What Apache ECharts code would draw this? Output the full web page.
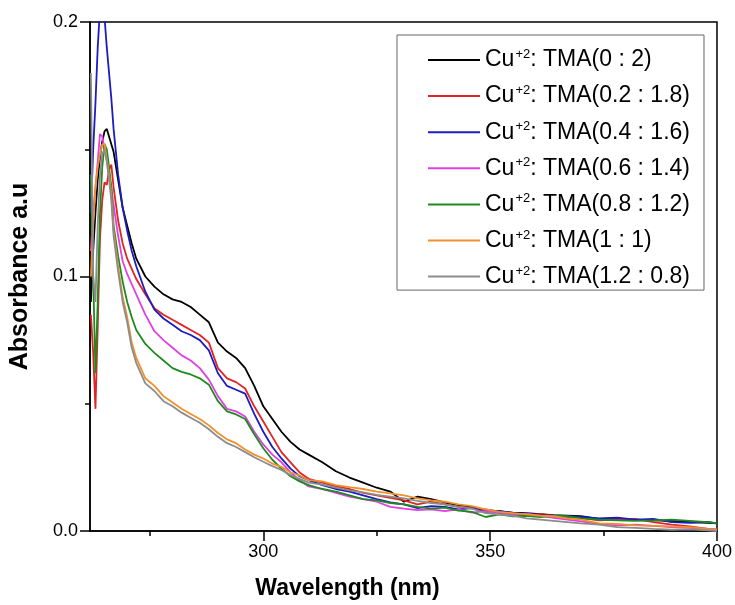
<!DOCTYPE html>
<html>
<head>
<meta charset="utf-8">
<script src="https://cdn.jsdelivr.net/npm/echarts@6/dist/echarts.min.js"></script>
<style>
html,body{margin:0;padding:0;background:#fff;}
#main{width:735px;height:605px;}
</style>
</head>
<body>
<div id="main"></div>
<script>
// Wavelength grid (nm)
const wavelengths = [262, 262.5, 263, 263.5, 264, 264.5, 265, 265.5, 266, 266.5, 267, 268, 269, 270, 271, 272, 274, 276, 278, 280, 282, 284, 286, 288, 290, 292, 294, 296, 298, 300, 302, 304, 306, 308, 310, 313, 316, 319, 322, 325, 328, 331, 334, 337, 340, 343, 346, 349, 352, 355, 358, 361, 364, 367, 370, 374, 378, 382, 386, 390, 394, 398, 400];

const seriesNames = ['0 : 2', '0.2 : 1.8', '0.4 : 1.6', '0.6 : 1.4', '0.8 : 1.2', '1 : 1', '1.2 : 0.8'];

const abs_0_2 = [0.09, 0.11, 0.125, 0.138, 0.147, 0.153, 0.157, 0.158, 0.155, 0.152, 0.149, 0.138, 0.127, 0.120, 0.113, 0.107, 0.100, 0.096, 0.093, 0.091, 0.090, 0.088, 0.085, 0.082, 0.074, 0.0705, 0.068, 0.064, 0.057, 0.049, 0.044, 0.039, 0.035, 0.032, 0.030, 0.027, 0.0235, 0.021, 0.019, 0.017, 0.0155, 0.0115, 0.0135, 0.0125, 0.0112, 0.0102, 0.0095, 0.0082, 0.0078, 0.0072, 0.007, 0.0066, 0.0062, 0.006, 0.0058, 0.0048, 0.005, 0.0043, 0.0042, 0.004, 0.0035, 0.0032, 0.003];

const abs_02_18 = [0.085, 0.07, 0.048, 0.08, 0.115, 0.13, 0.137, 0.136, 0.142, 0.144, 0.135, 0.122, 0.113, 0.107, 0.103, 0.099, 0.093, 0.0875, 0.085, 0.083, 0.081, 0.079, 0.077, 0.074, 0.064, 0.060, 0.0585, 0.056, 0.049, 0.043, 0.037, 0.031, 0.027, 0.023, 0.0205, 0.019, 0.0175, 0.0165, 0.015, 0.014, 0.013, 0.012, 0.0105, 0.0115, 0.0105, 0.0095, 0.009, 0.0085, 0.0075, 0.0068, 0.0062, 0.0066, 0.006, 0.0055, 0.0052, 0.0042, 0.0045, 0.0048, 0.0035, 0.0025, 0.0018, 0.0008, 0.0005];

const abs_04_16 = [0.125, 0.15, 0.168, 0.19, 0.205, 0.215, 0.202, 0.19, 0.18, 0.17, 0.158, 0.14, 0.127, 0.118, 0.11, 0.104, 0.094, 0.087, 0.0835, 0.081, 0.0785, 0.077, 0.075, 0.071, 0.062, 0.057, 0.0555, 0.054, 0.046, 0.039, 0.033, 0.0285, 0.0245, 0.0215, 0.020, 0.018, 0.0165, 0.0155, 0.014, 0.0125, 0.0112, 0.0105, 0.009, 0.0098, 0.0095, 0.0085, 0.009, 0.0075, 0.0078, 0.007, 0.0068, 0.0062, 0.006, 0.0058, 0.0055, 0.005, 0.0052, 0.0045, 0.0048, 0.0035, 0.0032, 0.0036, 0.003];

const abs_06_14 = [0.11, 0.125, 0.135, 0.145, 0.156, 0.155, 0.15, 0.146, 0.14, 0.135, 0.128, 0.116, 0.106, 0.101, 0.097, 0.093, 0.085, 0.0785, 0.075, 0.072, 0.069, 0.067, 0.064, 0.0595, 0.053, 0.048, 0.047, 0.045, 0.039, 0.034, 0.030, 0.027, 0.023, 0.020, 0.0175, 0.0165, 0.015, 0.0135, 0.0125, 0.0115, 0.0095, 0.0088, 0.0082, 0.0085, 0.0078, 0.0085, 0.0072, 0.0078, 0.007, 0.0065, 0.0068, 0.006, 0.0052, 0.0045, 0.0038, 0.0028, 0.0022, 0.0025, 0.002, 0.0015, 0.0012, 0.0008, 0.0005];

const abs_08_12 = [0.14, 0.10, 0.062, 0.09, 0.125, 0.143, 0.152, 0.15, 0.143, 0.135, 0.12, 0.108, 0.098, 0.09, 0.084, 0.079, 0.0735, 0.07, 0.067, 0.064, 0.0625, 0.0615, 0.060, 0.0575, 0.051, 0.047, 0.0458, 0.044, 0.038, 0.0325, 0.028, 0.0245, 0.0215, 0.0195, 0.018, 0.0165, 0.0155, 0.014, 0.0125, 0.012, 0.011, 0.0105, 0.0095, 0.0088, 0.0092, 0.008, 0.0075, 0.0055, 0.0065, 0.0058, 0.006, 0.0055, 0.006, 0.0058, 0.005, 0.0045, 0.0042, 0.004, 0.0042, 0.0045, 0.004, 0.0035, 0.003];

const abs_1_1 = [0.10, 0.12, 0.135, 0.143, 0.148, 0.152, 0.152, 0.146, 0.14, 0.132, 0.118, 0.104, 0.092, 0.084, 0.074, 0.068, 0.060, 0.057, 0.053, 0.0505, 0.048, 0.046, 0.044, 0.0415, 0.0385, 0.036, 0.0345, 0.032, 0.030, 0.0285, 0.0265, 0.0252, 0.023, 0.0218, 0.020, 0.0195, 0.018, 0.0172, 0.0165, 0.0155, 0.0148, 0.014, 0.0128, 0.012, 0.0115, 0.0105, 0.0098, 0.0085, 0.0075, 0.007, 0.0065, 0.006, 0.0058, 0.005, 0.0045, 0.003, 0.0028, 0.0022, 0.002, 0.0018, 0.0015, 0.0008, 0.0005];

const abs_12_08 = [0.18, 0.10, 0.09, 0.12, 0.14, 0.148, 0.15, 0.145, 0.138, 0.13, 0.116, 0.102, 0.09, 0.082, 0.072, 0.066, 0.058, 0.055, 0.051, 0.049, 0.0465, 0.0445, 0.0425, 0.040, 0.037, 0.0345, 0.033, 0.031, 0.029, 0.0272, 0.0255, 0.024, 0.022, 0.0205, 0.019, 0.0182, 0.017, 0.016, 0.0152, 0.0142, 0.0135, 0.0128, 0.0118, 0.011, 0.0105, 0.0095, 0.0088, 0.007, 0.0065, 0.006, 0.005, 0.0045, 0.004, 0.0035, 0.003, 0.0025, 0.0015, 0.0012, 0.0008, 0.0005, 0.0006, 0.0003, 0.0];

const seriesValues = [abs_0_2, abs_02_18, abs_04_16, abs_06_14, abs_08_12, abs_1_1, abs_12_08];
const seriesColors = ['#000000', '#e02424', '#1c1cc0', '#e040e0', '#1e8a1e', '#f0902c', '#8c8c8c'];

const xMajorTicks = [300, 350, 400];
const xMinorTicks = [275, 325, 375];

const FONT = "'Liberation Sans', Arial, sans-serif";

const chart = echarts.init(document.getElementById('main'), null, {renderer: 'canvas'});

const series = seriesNames.map((n, i) => ({
  name: n,
  type: 'line',
  symbol: 'none',
  showSymbol: false,
  clip: true,
  z: 2 + i,
  lineStyle: {color: seriesColors[i], width: 1.8},
  itemStyle: {color: seriesColors[i]},
  data: wavelengths.map((w, j) => [w, seriesValues[i][j]])
}));

chart.setOption({
  animation: false,
  backgroundColor: '#fff',
  textStyle: {fontFamily: FONT},
  grid: {left: 90, right: 18, top: 22, bottom: 72, show: true, borderColor: '#000', borderWidth: 1.5, backgroundColor: 'transparent'},
  legend: {
    orient: 'vertical',
    left: 397,
    top: 35,
    padding: [13, 14, 2, 31],
    itemGap: 12.6,
    itemWidth: 52,
    itemHeight: 2,
    icon: 'rect',
    borderColor: '#666',
    borderWidth: 1,
    backgroundColor: '#fff',
    data: seriesNames,
    formatter: function (name) {
      return '{b|Cu}{s|+2}{b|: TMA(' + name + ')}';
    },
    textStyle: {
      rich: {
        b: {fontSize: 23, fontFamily: FONT, color: '#000', lineHeight: 24, verticalAlign: 'middle'},
        s: {fontSize: 13, fontFamily: FONT, color: '#000', lineHeight: 13, verticalAlign: 'top', padding: [0, 0, 0, 1]}
      }
    }
  },
  xAxis: [{
    type: 'value',
    min: 261.8,
    max: 400,
    name: 'Wavelength (nm)',
    nameLocation: 'middle',
    nameGap: 46,
    nameTextStyle: {fontSize: 23, fontWeight: 'bold', color: '#000', fontFamily: FONT, padding: [0, 112, 0, 0]},
    axisLine: {show: true, onZero: false, lineStyle: {color: '#000', width: 1.5}},
    axisTick: {show: true, customValues: xMajorTicks, length: 10, lineStyle: {color: '#000', width: 1.5}},
    axisLabel: {show: true, customValues: xMajorTicks, margin: 12, fontSize: 18, color: '#000', fontFamily: FONT},
    splitLine: {show: false}
  }, {
    type: 'value',
    min: 261.8,
    max: 400,
    position: 'bottom',
    axisLine: {show: false},
    axisTick: {show: true, customValues: xMinorTicks, length: 5, lineStyle: {color: '#000', width: 1.5}},
    axisLabel: {show: false},
    splitLine: {show: false}
  }],
  yAxis: {
    type: 'value',
    min: 0,
    max: 0.2,
    interval: 0.1,
    name: 'Absorbance a.u',
    nameLocation: 'middle',
    nameGap: 57,
    nameTextStyle: {fontSize: 25, fontWeight: 'bold', color: '#000', fontFamily: FONT},
    axisLine: {show: true, onZero: false, lineStyle: {color: '#000', width: 1.5}},
    axisTick: {show: true, length: 10, lineStyle: {color: '#000', width: 1.5}},
    minorTick: {show: true, splitNumber: 2, length: 5, lineStyle: {color: '#000', width: 1.5}},
    axisLabel: {margin: 12, fontSize: 18, color: '#000', fontFamily: FONT, formatter: v => v.toFixed(1)},
    splitLine: {show: false}
  },
  series: series
});
</script>
</body>
</html>
